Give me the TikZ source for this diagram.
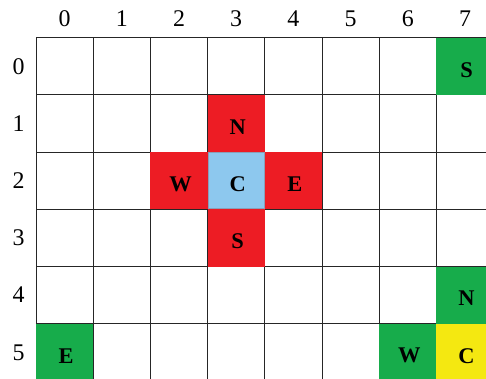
\documentclass[tikz,border=0pt]{standalone}
\usepackage{fontspec}
\setmainfont{Liberation Serif}
\definecolor{cgreen}{HTML}{17AC4B}
\definecolor{cred}{HTML}{ED1C24}
\definecolor{cblue}{HTML}{8DC8EE}
\definecolor{cyellow}{HTML}{F4E811}
\definecolor{cborder}{HTML}{8A9FB8}
\begin{document}
\begin{tikzpicture}[x=1bp,y=-1bp,
  cell/.style={minimum width=57.2bp,minimum height=57.2bp,inner sep=0pt,draw=none},
  letter/.style={inner sep=0pt,font=\fontsize{22.5}{24}\selectfont\bfseries},
  axislabel/.style={inner sep=0pt,font=\fontsize{24}{26}\selectfont}]
\useasboundingbox (0,0) rectangle (486,378);
\clip (0,0) rectangle (486,378);
\def\ox{36}\def\oy{37.7}\def\s{57.2}
% grid lines
\foreach \i in {0,...,8}{
  \draw[line width=1bp,black!85] (\ox+\i*\s,\oy) -- (\ox+\i*\s,\oy+6*\s);
}
\foreach \j in {0,...,6}{
  \draw[line width=1bp,black!85] (\ox,\oy+\j*\s) -- (\ox+8*\s,\oy+\j*\s);
}
% axis labels
\foreach \i in {0,...,7}{
  \node[axislabel] (col\i) at (\ox+\i*\s+0.5*\s,19) {\i};
}
\foreach \j in {0,...,5}{
  \node[axislabel] (row\j) at (18.5,\oy+\j*\s+0.5*\s) {\j};
}
% coloured cells
\node[cell,fill=cgreen] (s1) at (\ox+7.5*\s,\oy+0.5*\s) {};
\node[cell,fill=cred] (n2) at (\ox+3.5*\s,\oy+1.5*\s) {};
\node[cell,fill=cred] (w2) at (\ox+2.5*\s,\oy+2.5*\s) {};
\node[cell,fill=cred] (e2) at (\ox+4.5*\s,\oy+2.5*\s) {};
\node[cell,fill=cred] (s2) at (\ox+3.5*\s,\oy+3.5*\s) {};
\node[cell,fill=cblue,draw=cborder,line width=1bp,minimum width=56.2bp,minimum height=56.2bp] (c2) at (\ox+3.5*\s,\oy+2.5*\s) {};
\node[cell,fill=cgreen] (n1) at (\ox+7.5*\s,\oy+4.5*\s) {};
\node[cell,fill=cgreen] (e1) at (\ox+0.5*\s,\oy+5.5*\s) {};
\node[cell,fill=cgreen] (w1) at (\ox+6.5*\s,\oy+5.5*\s) {};
\node[cell,fill=cyellow] (c1) at (\ox+7.5*\s,\oy+5.5*\s) {};
% letters
\foreach \c/\t in {s1/S,n2/N,w2/W,e2/E,s2/S,c2/C,n1/N,e1/E,w1/W,c1/C}{
  \node[letter] (l\c) at ([xshift=1.5bp,yshift=-3.5bp]\c.center) {\t};
}
\end{tikzpicture}
\end{document}
